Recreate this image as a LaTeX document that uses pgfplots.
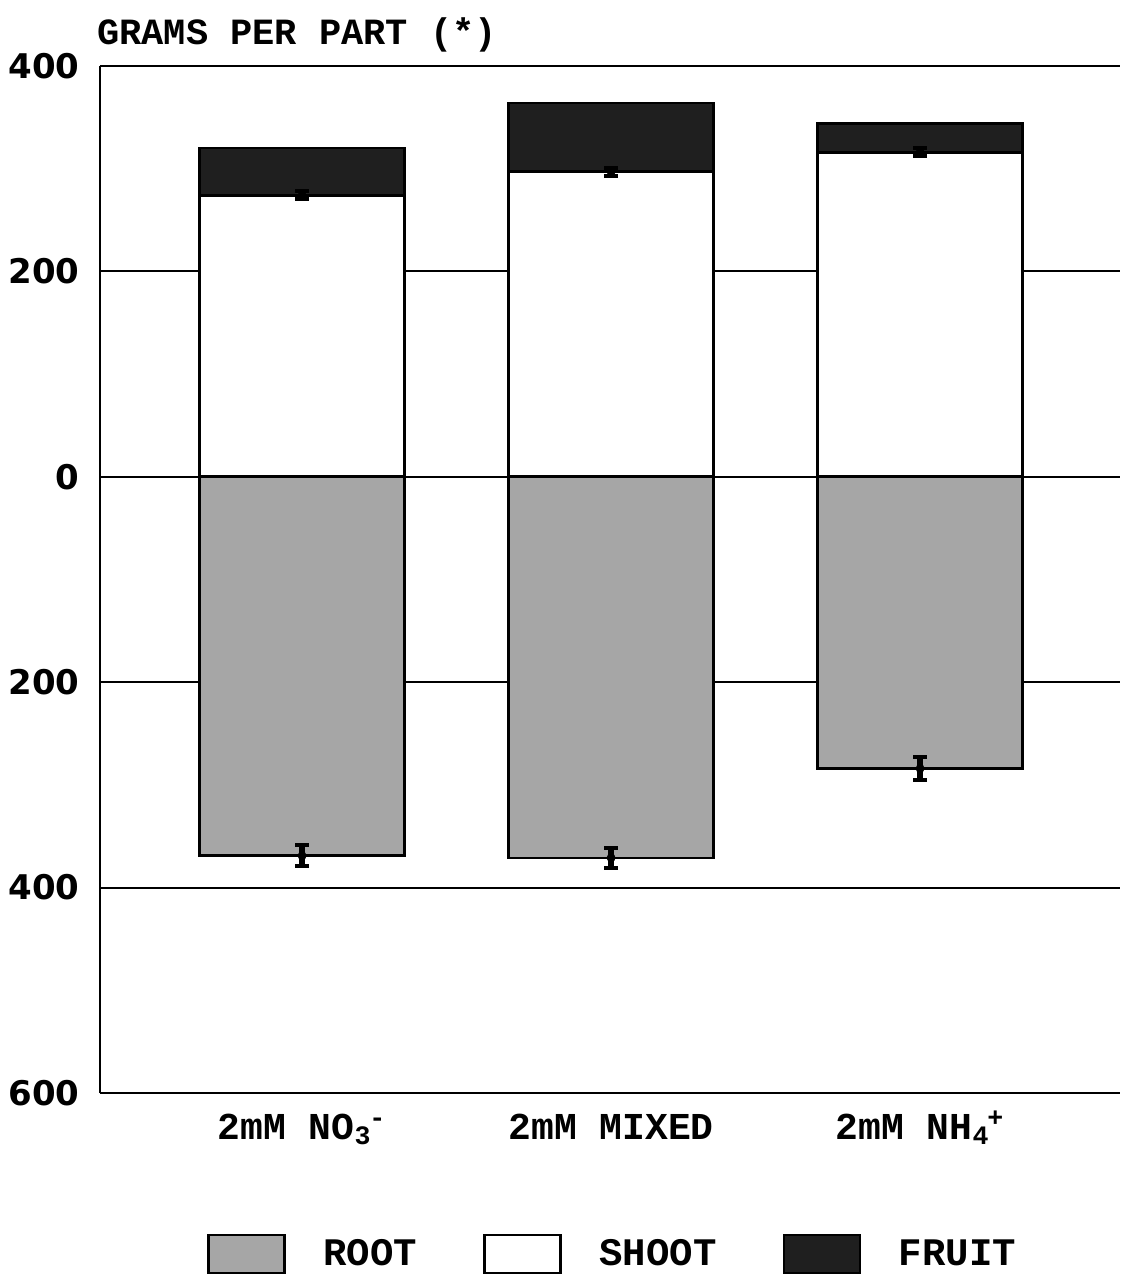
\documentclass[border=0pt]{standalone}
\usepackage{pgfplots}
\pgfplotsset{compat=1.18}
\usepackage{fontspec}
\setmainfont{Liberation Mono}
\newfontfamily\tickfont{DejaVu Sans}
\newcommand{\ion}[2]{\textsubscript{#1}\kern-1pt\textsuperscript{#2}}
\begin{document}
\begin{tikzpicture}
\useasboundingbox (-50pt,-93pt) rectangle (510pt,546.5pt);
\begin{axis}[
  at={(0,0)}, anchor=south west,
  scale only axis, width=510pt, height=513.5pt,
  xmin=-0.654, xmax=2.647, ymin=-600, ymax=400,
  axis y line*=left, axis x line*=bottom,
  axis line style={black, line width=1pt},
  ytick={-600,-400,-200,0,200,400},
  yticklabels={600,400,200,0,200,400},
  /pgf/number format/assume math mode=true,
  yticklabel style={font=\tickfont\bfseries\fontsize{17}{20}\selectfont, anchor=east, inner sep=0pt, xshift=-10pt},
  xtick={0,1,2},
  xticklabels={2mM NO\ion{3}{-}, 2mM MIXED, 2mM NH\ion{4}{+}},
  xticklabel style={font=\bfseries\fontsize{19}{22}\selectfont, anchor=base, inner sep=0pt, yshift=-23pt},
  major tick length=0pt,
  ymajorgrids, grid style={black, line width=1pt},
  clip=false,
  legend image code/.code={\draw[#1, line width=1.2pt] (0pt,-9.5pt) rectangle (38pt,9.5pt);},
  legend style={at={(0.5035,-0.1568)}, anchor=center, draw=none, fill=none,
    legend columns=3, font=\bfseries\fontsize{19.5}{22}\selectfont,
    /tikz/every even column/.append style={column sep=31pt},
    /tikz/every odd column/.append style={column sep=17pt}},
]
\addlegendimage{fill=black!35, draw=black}
\addlegendentry{ROOT}
\addlegendimage{fill=white, draw=black}
\addlegendentry{SHOOT}
\addlegendimage{fill=black!88, draw=black}
\addlegendentry{FRUIT}

% root (drawn downward)
\addplot[ybar, bar width=0.663, fill=black!35, draw=black, line width=1.3pt, forget plot]
  coordinates {(0,-369) (1,-371) (2,-284)};
% fruit: bar up to total (shoot + fruit)
\addplot[ybar, bar width=0.663, fill=black!88, draw=black, line width=1.3pt, forget plot]
  coordinates {(0,320) (1,364) (2,344)};
% shoot drawn over the lower part of the total
\addplot[ybar, bar width=0.663, fill=white, draw=black, line width=1.3pt, forget plot]
  coordinates {(0,274) (1,297) (2,316)};
% error bars
\addplot[only marks, mark=none, forget plot,
  error bars/.cd, y dir=both, y explicit,
  error bar style={black, line width=3pt},
  error mark=-,
  error mark options={rotate=90, black, line width=2pt, mark size=3.5pt}]
  coordinates {
    (0,-369) +- (0,10)
    (1,-371) +- (0,10)
    (2,-284) +- (0,11)
    (0,274) +- (0,4)
    (1,297) +- (0,4)
    (2,316) +- (0,4)
  };
\node[anchor=base west, font=\bfseries\fontsize{18.5}{22}\selectfont, inner sep=0pt]
  at (rel axis cs:0,1) [xshift=-1.5pt, yshift=10.5pt] {GRAMS PER PART (*)};
\end{axis}
\end{tikzpicture}
\end{document}
